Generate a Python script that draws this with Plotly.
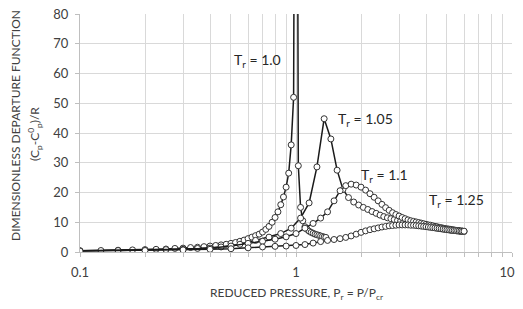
import math
import plotly.graph_objects as go

# ---------------- data ----------------
# T_r = 1.0 : reduced pressure grid and departure function values
P_10 = [0.1, 0.125, 0.15, 0.175, 0.2, 0.225, 0.25, 0.275, 0.3, 0.325, 0.35, 0.375,
        0.4, 0.425, 0.45, 0.475, 0.5, 0.525, 0.55, 0.575, 0.6, 0.625, 0.65, 0.675,
        0.7, 0.725, 0.75, 0.775, 0.8, 0.825, 0.85, 0.875, 0.9, 0.925, 0.95, 0.975,
        1.0,
        1.025, 1.05, 1.075, 1.1, 1.125, 1.15, 1.175, 1.2, 1.225, 1.25, 1.275, 1.3,
        1.325, 1.35, 1.375]
Y_10 = [0.4, 0.5, 0.6, 0.7, 0.8, 0.9, 1.0, 1.2, 1.3, 1.5, 1.6, 1.8,
        2.0, 2.2, 2.4, 2.6, 2.9, 3.2, 3.6, 4.0, 4.5, 5.0, 5.5, 6.0,
        6.7, 7.6, 8.6, 10.0, 11.6, 13.5, 15.9, 18.5, 21.8, 26.5, 36.0, 52.0,
        300.0,
        29.0, 15.0, 10.5, 8.5, 7.6, 7.0, 6.6, 6.3, 6.0, 5.8, 5.6, 5.4,
        5.2, 5.0, 4.9]

# T_r = 1.05
P_105 = [0.15, 0.25, 0.35, 0.45, 0.55, 0.65, 0.75, 0.85, 0.95, 1.05, 1.15, 1.25,
         1.35, 1.45, 1.55, 1.65, 1.75, 1.85, 1.95, 2.05, 2.15, 2.25, 2.35, 2.45,
         2.55, 2.65, 2.75, 2.85, 2.95, 3.05, 3.15, 3.25, 3.35, 3.45, 3.55, 3.65,
         3.75, 3.85, 3.95, 4.05, 4.15, 4.25, 4.35, 4.45, 4.55, 4.65, 4.75, 4.85,
         4.95, 5.05, 5.15, 5.25, 5.35, 5.45, 5.55, 5.65, 5.75, 5.85, 5.95]
Y_105 = [0.5, 0.8, 1.2, 1.7, 2.6, 3.9, 5.0, 6.2, 8.0, 11.4, 16.5, 28.6,
         44.8, 38.0, 27.5, 21.0, 18.3, 16.8, 15.8, 15.0, 14.3, 13.6, 13.0, 12.4,
         11.9, 11.5, 11.2, 10.9, 10.6, 10.4, 10.2, 10.1, 9.9, 9.7, 9.5, 9.3,
         9.1, 9.0, 8.8, 8.7, 8.5, 8.4, 8.3, 8.1, 8.0, 7.9, 7.8, 7.7,
         7.6, 7.5, 7.4, 7.3, 7.3, 7.2, 7.1, 7.1, 7.0, 7.0, 6.9]

# T_r = 1.1 and T_r = 1.25 share this pressure grid
P_GRID = [0.1, 0.2, 0.3, 0.4, 0.5, 0.6, 0.7, 0.8, 0.9, 1.0, 1.1, 1.2,
          1.3, 1.4, 1.5, 1.6, 1.7, 1.8, 1.9, 2.0, 2.1, 2.2, 2.3, 2.4,
          2.5, 2.6, 2.7, 2.8, 2.9, 3.0, 3.1, 3.2, 3.3, 3.4, 3.5, 3.6,
          3.7, 3.8, 3.9, 4.0, 4.1, 4.2, 4.3, 4.4, 4.5, 4.6, 4.7, 4.8,
          4.9, 5.0, 5.1, 5.2, 5.3, 5.4, 5.5, 5.6, 5.7, 5.8, 5.9, 6.0]
Y_11 = [0.4, 0.6, 0.9, 1.3, 2.0, 2.9, 3.6, 4.3, 5.1, 6.2, 8.0, 9.6,
        11.4, 13.5, 17.2, 20.6, 22.3, 22.8, 22.5, 21.8, 20.8, 19.6, 18.4, 17.2,
        16.0, 14.9, 14.0, 13.2, 12.6, 12.1, 11.6, 11.2, 10.8, 10.5, 10.3, 10.1,
        9.9, 9.7, 9.5, 9.3, 9.1, 9.0, 8.8, 8.6, 8.5, 8.3, 8.2, 8.0,
        7.9, 7.8, 7.7, 7.6, 7.5, 7.4, 7.3, 7.2, 7.1, 7.0, 7.0, 6.9]
Y_125 = [0.3, 0.5, 0.7, 0.9, 1.1, 1.4, 1.7, 1.9, 2.0, 2.2, 2.5, 3.0,
         3.5, 3.9, 4.2, 4.5, 4.9, 5.4, 6.0, 6.6, 7.1, 7.5, 7.8, 8.1,
         8.4, 8.6, 8.8, 8.9, 9.0, 9.1, 9.1, 9.1, 9.1, 9.0, 9.0, 8.9,
         8.8, 8.7, 8.6, 8.5, 8.4, 8.3, 8.2, 8.1, 8.0, 7.9, 7.8, 7.7,
         7.6, 7.5, 7.45, 7.4, 7.3, 7.25, 7.2, 7.15, 7.1, 7.05, 7.0, 7.0]

SERIES = [("T<sub>r</sub> = 1.0", P_10, Y_10),
          ("T<sub>r</sub> = 1.05", P_105, Y_105),
          ("T<sub>r</sub> = 1.1", P_GRID, Y_11),
          ("T<sub>r</sub> = 1.25", P_GRID, Y_125)]

# curve labels: text, pressure, value (label centre)
LABELS = [("T<sub>r</sub> = 1.0", 0.66, 64.5),
          ("T<sub>r</sub> = 1.05", 2.10, 44.7),
          ("T<sub>r</sub> = 1.1", 2.58, 25.7),
          ("T<sub>r</sub> = 1.25", 5.55, 17.4)]

X_TICKS = [0.1, 1, 10]
X_TICKTEXT = ["0.1", "1", "10&nbsp;&nbsp;&nbsp;"]

FONT = "Lato, 'Open Sans', sans-serif"
TXT = "#404040"
GRID = "#d9d9d9"

# the page body has an 8 px margin, so the figure is placed at (8, 8)
OFF = 8
W, H = 515, 293
ML, MR, MT, MB = 72, 11, 6, 49
pw, ph = W - ML - MR, H - MT - MB

fig = go.Figure()
for name, xs, ys in SERIES:
    fig.add_trace(go.Scatter(
        x=xs, y=ys, mode="lines+markers", name=name,
        line=dict(color="#1a1a1a", width=1.5),
        marker=dict(symbol="circle", size=6, color="white",
                    line=dict(color="#333333", width=1)),
        showlegend=False))

for text, x, y in LABELS:
    fig.add_annotation(x=math.log10(x), y=y, xref="x", yref="y", text=text, showarrow=False,
                       xanchor="center", yanchor="middle",
                       font=dict(family=FONT, size=14, color="#262626"))


def px_note(text, x, y, angle=0):
    # x, y: centre in window pixels
    fig.add_annotation(x=(x - OFF - ML) / pw, y=(H - MB - (y - OFF)) / ph,
                       xref="paper", yref="paper",
                       text=text, showarrow=False, textangle=angle,
                       xanchor="center", yanchor="middle",
                       font=dict(family=FONT, size=12, color=TXT))


px_note("DIMENSIONLESS DEPARTURE FUNCTION", 15, 126, -90)
px_note("(C<sub>p</sub>-C<sup>0</sup><sub>p</sub>)/R", 35, 134, -90)
px_note("REDUCED PRESSURE, P<sub>r</sub> = P/P<sub>cr</sub>", 296, 293)

fig.update_layout(
    width=W, height=H,
    margin=dict(l=ML, r=MR, t=MT, b=MB, pad=0, autoexpand=False),
    paper_bgcolor="white", plot_bgcolor="white",
    font=dict(family=FONT, size=12, color=TXT),
    xaxis=dict(type="log", range=[-1, 1], tickvals=X_TICKS,
               ticktext=X_TICKTEXT, automargin=False,
               showgrid=True, gridcolor=GRID, gridwidth=1,
               minor=dict(dtick="D1", showgrid=True, gridcolor=GRID, gridwidth=1,
                          ticks="outside", ticklen=4, tickcolor="#bfbfbf"),
               ticks="outside", ticklen=4, tickcolor="#bfbfbf",
               showline=True, linecolor="#bfbfbf", linewidth=1,
               zeroline=False, ticklabelstandoff=4, ticklabeloverflow="allow",
               tickfont=dict(family=FONT, size=13, color=TXT)),
    yaxis=dict(range=[0, 80], dtick=10, showgrid=True, gridcolor=GRID, gridwidth=1,
               showline=True, linecolor="#bfbfbf", linewidth=1, automargin=False,
               ticks="outside", ticklen=4, tickcolor="#bfbfbf",
               zeroline=False, ticklabelstandoff=4, ticklabeloverflow="allow",
               tickfont=dict(family=FONT, size=13, color=TXT)),
)

fig.write_html("out.html")
